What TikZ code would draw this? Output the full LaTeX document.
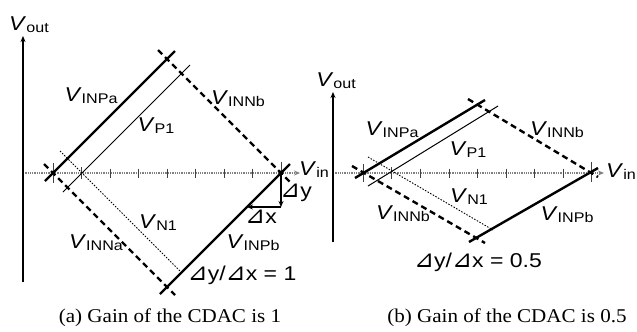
\documentclass[tikz,border=0pt]{standalone}
\usepackage{fontspec}
\setmainfont{Liberation Sans}[FakeStretch=1.15]
\newfontfamily\capfont{Liberation Serif}[FakeStretch=1.08]
\newfontfamily\symfont{DejaVu Sans}
\usetikzlibrary{arrows.meta}
\newcommand{\vsig}[1]{\textit{V}\raisebox{-2bp}{\fontsize{14bp}{14bp}\selectfont #1}}
\newcommand{\dtri}{{\symfont\fontsize{24bp}{24bp}\selectfont ⊿}}
\tikzset{
  lbl/.style={font=\fontsize{20bp}{24bp}\selectfont, inner sep=0pt},
  caplbl/.style={font=\capfont\fontsize{19.5bp}{22bp}\selectfont, inner sep=0pt},
  yaxis/.style={-{Stealth[length=6bp,width=5bp]}, line width=1.3bp},
  xaxis/.style={-{Stealth[length=6bp,width=5bp]}, gray, line width=1.3bp, densely dotted},
  thkline/.style={line width=2.4bp},
  thnline/.style={line width=1bp},
  dshline/.style={line width=2.4bp, dash pattern=on 6bp off 4bp},
  dotline/.style={line width=0.9bp, dash pattern=on 1.5bp off 1.5bp},
  tickmark/.style={line width=0.8bp, black!75},
  deltarrow/.style={-{Stealth[length=6bp,width=5bp]}, line width=1.3bp}
}
\begin{document}
\begin{tikzpicture}[x=1bp, y=-1bp]
\useasboundingbox (0,0) rectangle (637,331);
% ---- (a) gain 1 ----
\coordinate (aO) at (23,282);
\coordinate (aYtop) at (23,36);
\coordinate (aXs) at (23,173);
\coordinate (aXe) at (300,173);
\coordinate (aCross) at (281,173);
\draw[xaxis] (aXs) -- (aXe);
\draw[yaxis] (aO) -- (aYtop);
\foreach \x in {110,138.5,167,195.5,224,252.5}
  \draw[tickmark] (\x,168.5) -- (\x,177.5);
\draw[tickmark] (53,163) -- (53,183);
\draw[tickmark] (81.5,167) -- (81.5,179);
\draw[tickmark] (281,162) -- (281,184);
% signal lines
\coordinate (aPa1) at (45,181);  \coordinate (aPa2) at (175,51);
\coordinate (aP11) at (63,192);  \coordinate (aP12) at (190,65);
\coordinate (aNb1) at (158,50);  \coordinate (aNb2) at (290,182);
\coordinate (aPb1) at (160,294); \coordinate (aPb2) at (290,164);
\coordinate (aNa1) at (44,164);  \coordinate (aNa2) at (175,295);
\coordinate (aN11) at (60,151);  \coordinate (aN12) at (183,274);
\draw[thkline] (aPa1) -- (aPa2);
\draw[thnline] (aP11) -- (aP12);
\draw[dshline] (aNb1) -- (aNb2);
\draw[thkline] (aPb1) -- (aPb2);
\draw[dshline] (aNa1) -- (aNa2);
\draw[dotline] (aN11) -- (aN12);
% slope arrows
\coordinate (aDy) at (281,207);
\coordinate (aDx) at (247,207);
\fill (aCross) circle (2.5bp);
\draw[deltarrow] (aCross) -- (aDy);
\draw[deltarrow] (aDy) -- (aDx);
% labels
\node[lbl] (voutA) at (29,25) {\vsig{out}};
\node[lbl] (vinA) at (314,170) {\vsig{in}};
\node[lbl] (inpaA) at (91,96) {\vsig{INPa}};
\node[lbl] (innbA) at (238,99) {\vsig{INNb}};
\node[lbl] (p1A) at (156,126) {\vsig{P1}};
\node[lbl] (n1A) at (158,223) {\vsig{N1}};
\node[lbl] (innaA) at (96,243) {\vsig{INNa}};
\node[lbl] (inpbA) at (253,243) {\vsig{INPb}};
\node[lbl] (dyA) at (296,193) {\dtri y};
\node[lbl] (dxA) at (261,217) {\dtri x};
\node[lbl] (gainA) at (242,275) {\dtri y/\dtri x = 1};
\node[caplbl] (capA) at (170,318) {(a) Gain of the CDAC is 1};
% ---- (b) gain 0.5 ----
\coordinate (bO) at (333,242);
\coordinate (bYtop) at (333,92);
\coordinate (bXs) at (333,173);
\coordinate (bXe) at (604,173);
\draw[xaxis] (bXs) -- (bXe);
\draw[yaxis] (bO) -- (bYtop);
\foreach \x in {420.5,449,477.5,506,534.5,563}
  \draw[tickmark] (\x,168.5) -- (\x,177.5);
\draw[tickmark] (363,164) -- (363,182);
\draw[tickmark] (391.5,167) -- (391.5,179);
\draw[tickmark] (591,162) -- (591,182);
% signal lines
\coordinate (bPa1) at (355,178); \coordinate (bPa2) at (485,100);
\coordinate (bP11) at (368,186); \coordinate (bP12) at (498,106);
\coordinate (bNb1) at (468,99);  \coordinate (bNb2) at (598,177);
\coordinate (bPb1) at (469,242); \coordinate (bPb2) at (598,168);
\coordinate (bNa1) at (352,166); \coordinate (bNa2) at (485,243);
\coordinate (bN11) at (368,157); \coordinate (bN12) at (493,230);
\draw[thkline] (bPa1) -- (bPa2);
\draw[thnline] (bP11) -- (bP12);
\draw[dshline] (bNb1) -- (bNb2);
\draw[thkline] (bPb1) -- (bPb2);
\draw[dshline] (bNa1) -- (bNa2);
\draw[dotline] (bN11) -- (bN12);
% labels
\node[lbl] (voutB) at (336,81) {\vsig{out}};
\node[lbl, anchor=west] (vinB) at (606,172) {\vsig{in}};
\node[lbl] (inpaB) at (392,130) {\vsig{INPa}};
\node[lbl] (innbB) at (557,130) {\vsig{INNb}};
\node[lbl] (p1B) at (468,150) {\vsig{P1}};
\node[lbl] (n1B) at (469,197) {\vsig{N1}};
\node[lbl] (innaB) at (403,214) {\vsig{INNb}};
\node[lbl] (inpbB) at (567,215) {\vsig{INPb}};
\node[lbl] (gainB) at (478,262) {\dtri y/\dtri x = 0.5};
\node[caplbl] (capB) at (507,318) {(b) Gain of the CDAC is 0.5};
\end{tikzpicture}
\end{document}
